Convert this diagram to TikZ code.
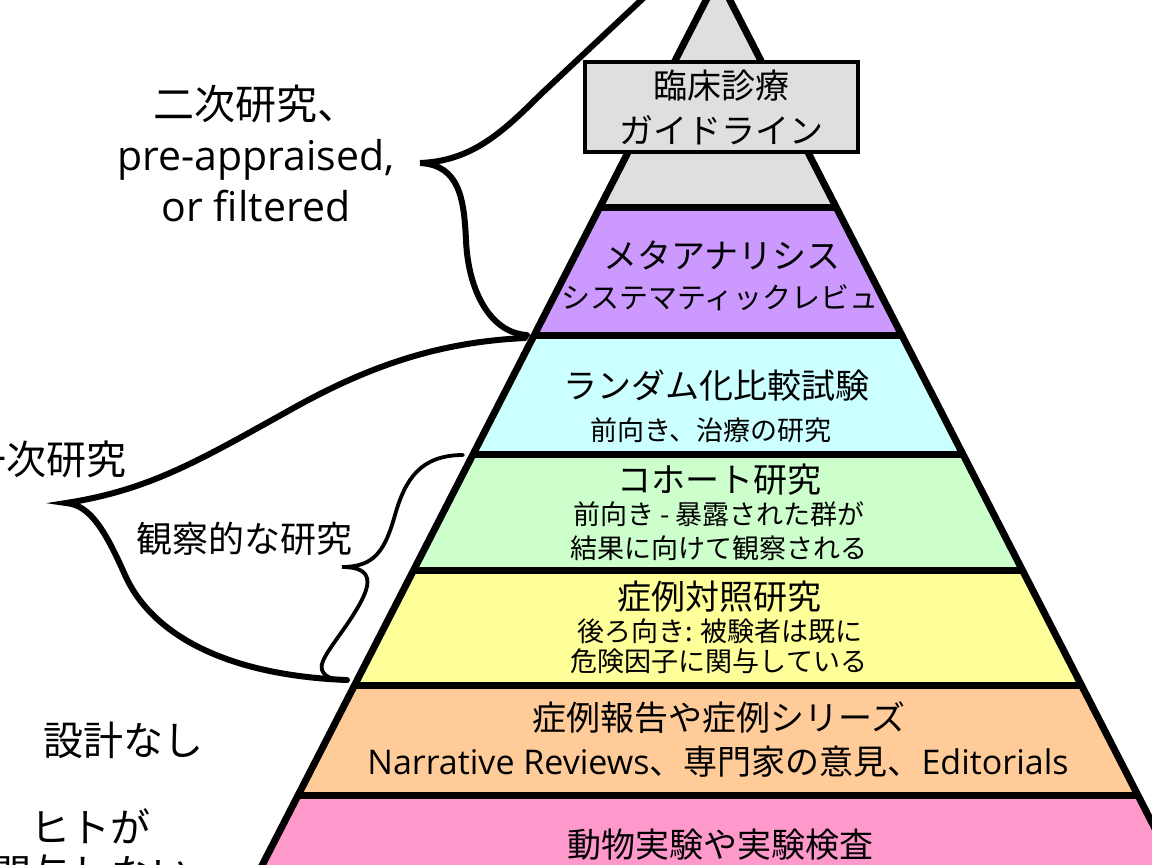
\documentclass[tikz,border=0pt]{standalone}
\usepackage{fontspec}
\setmainfont{Open Sans}
\newfontfamily\jp{Noto Sans CJK JP}
\usetikzlibrary{calc}

\definecolor{guidegray}{HTML}{DFDFDF}
\definecolor{metapurple}{HTML}{CC99FF}
\definecolor{rctcyan}{HTML}{CCFFFF}
\definecolor{cohortgreen}{HTML}{CCFFCC}
\definecolor{caseyellow}{HTML}{FFFF99}
\definecolor{reportorange}{HTML}{FFCC99}
\definecolor{animalpink}{HTML}{FF99CC}

\tikzset{
 layerline/.style={black, line width=3.5pt},
 bracebig/.style={black, line width=3pt, line cap=round},
 bracesmall/.style={black, line width=1.9pt, line cap=round},
 lvltitle/.style={inner sep=0pt, font=\jp\fontsize{17}{20}\selectfont},
 lvlnote/.style={inner sep=0pt, font=\jp\fontsize{13.5}{16}\selectfont},
 sidelabel/.style={inner sep=0pt, align=center, font=\fontsize{20.5}{25.5}\selectfont},
}

\begin{document}
\begin{tikzpicture}[x=.5pt,y=-.5pt]
\useasboundingbox (0,0) rectangle (1152,864);
\clip (0,0) rectangle (1152,864);
\fill[white] (0,0) rectangle (1152,864);

\coordinate (apex) at (718,-23);
\coordinate (baseL) at (193,1000);
\coordinate (baseR) at (1243,1000);

% layers of the pyramid
\begin{scope}
\clip (apex) -- (baseL) -- (baseR) -- cycle;
\foreach \ya/\yb/\col in {-30/207/guidegray, 207/335/metapurple, 335/454/rctcyan, 454/570/cohortgreen, 570/685/caseyellow, 685/795/reportorange, 795/1000/animalpink} {
 \fill[\col] (0,\ya) rectangle (1152,\yb);
}
\foreach \y in {207,335,454,570,685,795} {
 \draw[layerline] (0,\y) -- (1152,\y);
}
\end{scope}
\draw[layerline, line join=miter] (baseL) -- (apex) -- (baseR);

\node[draw=black, line width=2pt, fill=guidegray, minimum width=136.5pt, minimum height=45pt,
 align=center, inner sep=0pt, font=\jp\fontsize{17}{22.5}\selectfont] (guide) at (721.5,107) {臨床診療\\ガイドライン};

\node[lvltitle] (meta) at (722,255) {メタアナリシス};
\node[lvltitle, font=\jp\fontsize{14.5}{17}\selectfont] (sysrev) at (720,298) {システマティックレビュ};
\node[lvltitle] (rct) at (716,386) {ランダム化比較試験};
\node[lvlnote] (rctnote) at (711,430) {前向き、治療の研究};
\node[lvltitle] (cohort) at (719,480) {コホート研究};
\node[lvlnote] (cohortnote1) at (719,514) {前向き - 暴露された群が};
\node[lvlnote] (cohortnote2) at (719,548) {結果に向けて観察される};
\node[lvltitle] (casectl) at (719,597) {症例対照研究};
\node[lvlnote] (casenote1) at (720,631) {後ろ向き: 被験者は既に};
\node[lvlnote] (casenote2) at (719,661) {危険因子に関与している};
\node[lvltitle] (report) at (719,718) {症例報告や症例シリーズ};
\node[lvltitle, font=\fontsize{17}{20}\selectfont] (opinion) at (718,762) {Narrative Reviews{\jp 、専門家の意見、}Editorials};
\node[lvltitle] (animal) at (720,845) {動物実験や実験検査};

% labels on the left
\node[sidelabel] (secondary) at (256,153) {{\jp 二次研究、}\\pre-appraised,\\or filtered};
\node[sidelabel, font=\jp\fontsize{20}{24}\selectfont] (primary) at (47,459) {一次研究};
\node[sidelabel, font=\jp\fontsize{18}{22}\selectfont] (observ) at (244,539) {観察的な研究};
\node[sidelabel, font=\jp\fontsize{20}{24}\selectfont] (nodesign) at (123,740) {設計なし};
\node[sidelabel, font=\jp\fontsize{20}{23}\selectfont, anchor=north] (nohuman) at (91,808) {ヒトが\\関与しない};

% braces
\coordinate (secTip) at (420,163);
\coordinate (primTip) at (66,503);
\coordinate (obsTip) at (342,567);
\draw[bracebig] (668,-25) -- (540,95) .. controls (500,135) and (470,161) .. (secTip)
 .. controls (460,165) and (464,200) .. (466,240) .. controls (468,290) and (490,333) .. (527,335);
\draw[bracebig] (525,338) .. controls (440,342) and (370,365) .. (290,410)
 .. controls (200,460) and (150,490) .. (primTip)
 .. controls (90,505) and (105,530) .. (125,575) .. controls (150,631) and (220,675) .. (347,680);
\draw[bracesmall] (463,455) .. controls (420,455) and (405,480) .. (395,515)
 .. controls (385,550) and (375,567) .. (obsTip)
 .. controls (375,567) and (372,585) .. (355,612) .. controls (340,637) and (318,660) .. (322,670)
 .. controls (325,678) and (335,680) .. (347,681);
\end{tikzpicture}
\end{document}
